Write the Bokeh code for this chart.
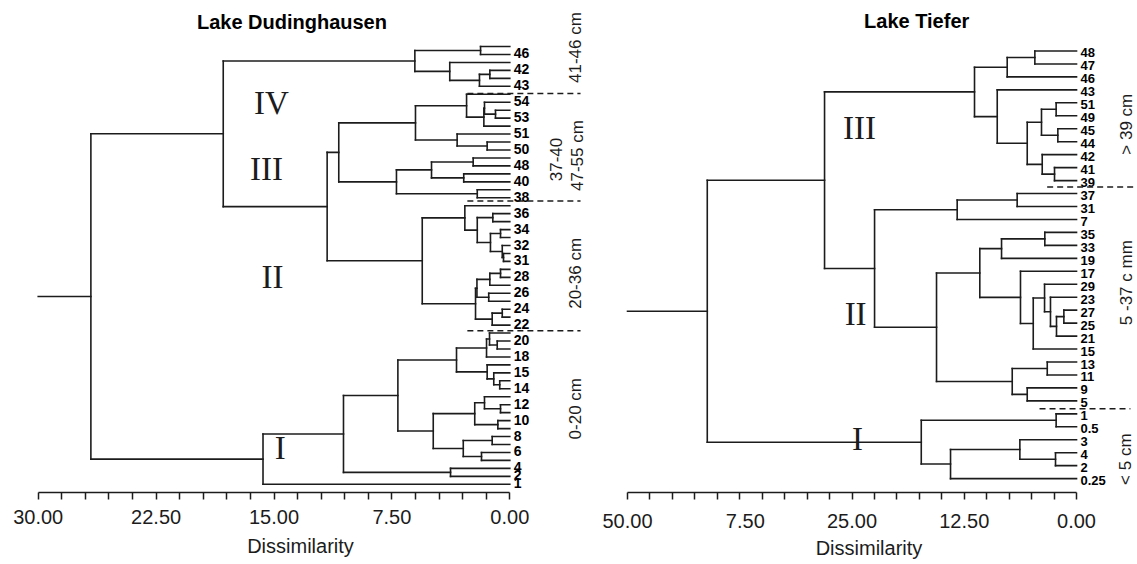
import math
from bokeh.plotting import figure
from bokeh.models import Range1d, LinearAxis, FixedTicker, Label, ColumnDataSource
from bokeh.layouts import row
from bokeh.embed import file_html
from bokeh.resources import INLINE
from bokeh.core.properties import value

# ---------------- data: Lake Dudinghausen ----------------
dud_leaves = ["", "46", "", "42", "", "43",
              "", "54", "", "53", "", "51", "", "50", "", "48", "", "40", "", "38",
              "", "36", "", "34", "", "32", "", "31", "", "28", "", "26", "", "24", "", "22",
              "", "20", "", "18", "", "15", "", "14", "", "12", "", "10", "", "8", "", "6", "", "4", "2", "1"]
# merges: child a, child b (leaf index, or n_leaves + merge number), dissimilarity
dud_a = [0, 3, 57, 2, 56,
         8, 7, 62, 6, 12, 11, 64, 14, 16, 68, 18, 70, 67,
         21, 23, 26, 25, 75, 74, 20,
         28, 81, 31, 82, 33, 85, 84, 80, 73, 60,
         37, 36, 92, 42, 41, 40, 93, 45, 44, 47, 99, 49, 51, 102, 101, 97, 53, 106, 108, 90]
dud_b = [1, 4, 5, 58, 59,
         9, 61, 10, 63, 13, 65, 66, 15, 17, 69, 19, 71, 72,
         22, 24, 27, 76, 77, 78, 79,
         29, 30, 32, 83, 34, 35, 86, 87, 88, 89,
         38, 91, 39, 43, 94, 95, 96, 46, 98, 48, 100, 50, 52, 103, 104, 105, 54, 107, 55, 109]
dud_h = [1.86, 1.27, 1.93, 3.82, 6.04,
         0.91, 1.61, 1.65, 2.75, 1.44, 3.35, 6.00, 2.33, 2.93, 4.98, 2.07, 7.21, 10.88,
         1.08, 0.59, 0.40, 0.48, 1.23, 2.07, 2.86,
         0.59, 1.27, 1.34, 2.09, 0.48, 1.12, 2.18, 5.57, 11.62, 18.23,
         0.80, 1.29, 1.48, 0.64, 1.02, 1.44, 3.39, 0.59, 1.61, 0.76, 2.23, 1.12, 1.80, 2.96,
         4.87, 7.12, 3.77, 10.58, 15.70, 26.65]
dud_tick_values = [0, 7.5, 15, 22.5, 30]
dud_tick_labels = ["0.00", "7.50", "15.00", "22.50", "30.00"]
dud_groups = ["41-46 cm", "37-40", "47-55 cm", "20-36 cm", "0-20 cm"]
dud_clusters = ["IV", "III", "II", "I"]

# ---------------- data: Lake Tiefer ----------------
tie_leaves = ["48", "47", "46", "43", "51", "49", "45", "44", "42", "41", "39",
              "37", "31", "7", "35", "33", "19", "17", "29", "23", "27", "25", "21",
              "15", "13", "11", "9", "5", "1", "0.5", "3", "4", "2", "0.25"]
tie_a = [0, 34, 4, 6, 36, 9, 8, 38, 3, 35,
         11, 44, 14, 46, 20, 48, 19, 18, 51, 17, 47, 24, 26, 55, 54, 45, 43,
         28, 31, 30, 63, 61, 60]
tie_b = [1, 2, 5, 7, 37, 10, 39, 40, 41, 42,
         12, 13, 15, 16, 21, 22, 49, 50, 23, 52, 53, 25, 27, 56, 57, 58, 59,
         29, 32, 62, 33, 64, 65]
tie_h = [4.64, 7.72, 2.27, 2.08, 3.90, 2.45, 3.82, 5.49, 8.83, 11.36,
         6.61, 13.29, 3.53, 8.35, 1.41, 2.23, 2.90, 3.56, 4.82, 6.24, 10.77,
         3.26, 5.49, 7.16, 15.59, 22.49, 28.06,
         2.27, 2.34, 6.31, 14.03, 17.29, 41.12]
tie_tick_values = [0, 12.5, 25, 37.5, 50]
tie_tick_labels = ["0.00", "12.50", "25.00", "\u20077.50", "50.00"]
tie_groups = ["> 39 cm", "5 -37 c mm", "< 5 cm"]
tie_clusters = ["III", "II", "I"]

INK = "#1c1c1c"
SANS = "Liberation Sans"
SERIF = "Liberation Serif"


def tree_segments(n, a, b, h, stub_to):
    ys = [float(i) for i in range(n)]
    hs = [0.0] * n
    x0, y0, x1, y1 = [], [], [], []
    for ca, cb, hh in zip(a, b, h):
        for c in (ca, cb):
            x0.append(hs[c]); x1.append(hh); y0.append(ys[c]); y1.append(ys[c])
        x0.append(hh); x1.append(hh); y0.append(ys[ca]); y1.append(ys[cb])
        ys.append((ys[ca] + ys[cb]) / 2.0)
        hs.append(hh)
    # root stub
    x0.append(hs[-1]); x1.append(stub_to); y0.append(ys[-1]); y1.append(ys[-1])
    return dict(x0=x0, y0=y0, x1=x1, y1=y1)


def make_axis(p, tick_values, tick_labels, step, top, standoff, lstandoff):
    ticks = [step * i for i in range(int(round(top / step)) + 1)]
    overrides = {t: "" for t in ticks}
    for v, l in zip(tick_values, tick_labels):
        overrides[v] = l
    ax = LinearAxis(ticker=FixedTicker(ticks=ticks), bounds=(0, top),
                    major_label_overrides=overrides,
                    axis_label="Dissimilarity",
                    axis_line_color=INK, axis_line_width=1.5,
                    major_tick_line_color=INK, major_tick_line_width=1.5,
                    major_tick_out=7, major_tick_in=0,
                    minor_tick_line_color=None,
                    major_label_text_font=SANS, major_label_text_font_size="20px",
                    major_label_text_color=INK, major_label_standoff=standoff,
                    axis_label_text_font=SANS, axis_label_text_font_size="20px",
                    axis_label_text_font_style="normal", axis_label_text_color=INK,
                    axis_label_standoff=lstandoff)
    p.add_layout(ax, "below")


def base_fig(w, h, xr, yr, bottom):
    p = figure(width=w, height=h, x_range=Range1d(*xr), y_range=Range1d(*yr),
               x_axis_type=None, y_axis_type=None, toolbar_location=None,
               output_backend="svg", min_border_left=0, min_border_right=0,
               min_border_top=0, min_border_bottom=bottom)
    p.outline_line_color = None
    p.background_fill_color = "white"
    p.border_fill_color = "white"
    return p


def rot_label(p, x, y, text, size="17px"):
    p.add_layout(Label(x=x, y=y, text=text, angle=math.pi / 2, text_align="center",
                       text_baseline="middle", text_font=SANS, text_font_size=size,
                       text_color=INK))


def roman(p, x, y, text):
    p.add_layout(Label(x=x, y=y, text=text, text_align="center", text_baseline="middle",
                       text_font=SERIF, text_font_size="33px", text_color=INK))


def title(p, x, y, text):
    p.add_layout(Label(x=x, y=y, text=text, text_align="center", text_baseline="middle",
                       text_font=SANS, text_font_size="20px", text_font_style="bold",
                       text_color="black"))


# ---------------- left: Lake Dudinghausen ----------------
p1 = base_fig(600, 564, (32.40, -5.77), (56.03, -5.78), 72)
seg1 = ColumnDataSource(tree_segments(len(dud_leaves), dud_a, dud_b, dud_h, 30))
p1.segment("x0", "y0", "x1", "y1", source=seg1, line_color=INK, line_width=1.6,
           line_cap="square")
lab1 = ColumnDataSource(dict(x=[0.0] * len(dud_leaves), y=list(range(len(dud_leaves))),
                             t=dud_leaves))
p1.text("x", "y", text="t", source=lab1, x_offset=4, y_offset=-1,
        text_font=value(SANS), text_font_style="bold", text_font_size="14px",
        text_baseline="middle", text_align="left", text_color="black")
dud_breaks = [5.9, 19.4, 35.7]
p1.segment(x0=[2.7] * 3, x1=[-4.5] * 3, y0=dud_breaks, y1=dud_breaks,
           line_color=INK, line_width=1.5, line_dash="6 4")
make_axis(p1, dud_tick_values, dud_tick_labels, 1.5, 30, 10, 8)
title(p1, 13.86, -3.14, "Lake Dudinghausen")
rot_label(p1, -4.18, 0.13, dud_groups[0])
rot_label(p1, -2.91, 14.2, dud_groups[1])
rot_label(p1, -4.31, 13.7, dud_groups[2])
rot_label(p1, -4.18, 28.5, dud_groups[3])
rot_label(p1, -4.18, 45.5, dud_groups[4])
roman(p1, 15.16, 7.04, dud_clusters[0])
roman(p1, 15.48, 15.45, dud_clusters[1])
roman(p1, 15.10, 28.9, dud_clusters[2])
roman(p1, 14.60, 50.4, dud_clusters[3])

# ---------------- right: Lake Tiefer ----------------
p2 = base_fig(537, 564, (53.01, -6.79), (34.07, -3.896), 67)
seg2 = ColumnDataSource(tree_segments(len(tie_leaves), tie_a, tie_b, tie_h, 50))
p2.segment("x0", "y0", "x1", "y1", source=seg2, line_color=INK, line_width=1.6,
           line_cap="square")
lab2 = ColumnDataSource(dict(x=[0.0] * len(tie_leaves), y=list(range(len(tie_leaves))),
                             t=tie_leaves))
p2.text("x", "y", text="t", source=lab2, x_offset=4, y_offset=2,
        text_font=value(SANS), text_font_style="bold", text_font_size="13px",
        text_baseline="middle", text_align="left", text_color="black")
tie_breaks = [10.5, 27.6]
p2.segment(x0=[3.27, 4.12], x1=[-6.8, -6.0], y0=tie_breaks, y1=tie_breaks,
           line_color=INK, line_width=1.5, line_dash="6 4")
make_axis(p2, tie_tick_values, tie_tick_labels, 2.5, 50, 10, 2)
title(p2, 17.8, -2.29, "Lake Tiefer")
rot_label(p2, -5.6, 5.65, tie_groups[0])
rot_label(p2, -5.6, 17.88, tie_groups[1])
rot_label(p2, -5.5, 31.5, tie_groups[2])
roman(p2, 24.17, 5.96, tie_clusters[0])
roman(p2, 24.6, 20.3, tie_clusters[1])
roman(p2, 24.4, 29.95, tie_clusters[2])

layout = row(p1, p2)
open("out.html", "w").write(file_html(layout, INLINE))
